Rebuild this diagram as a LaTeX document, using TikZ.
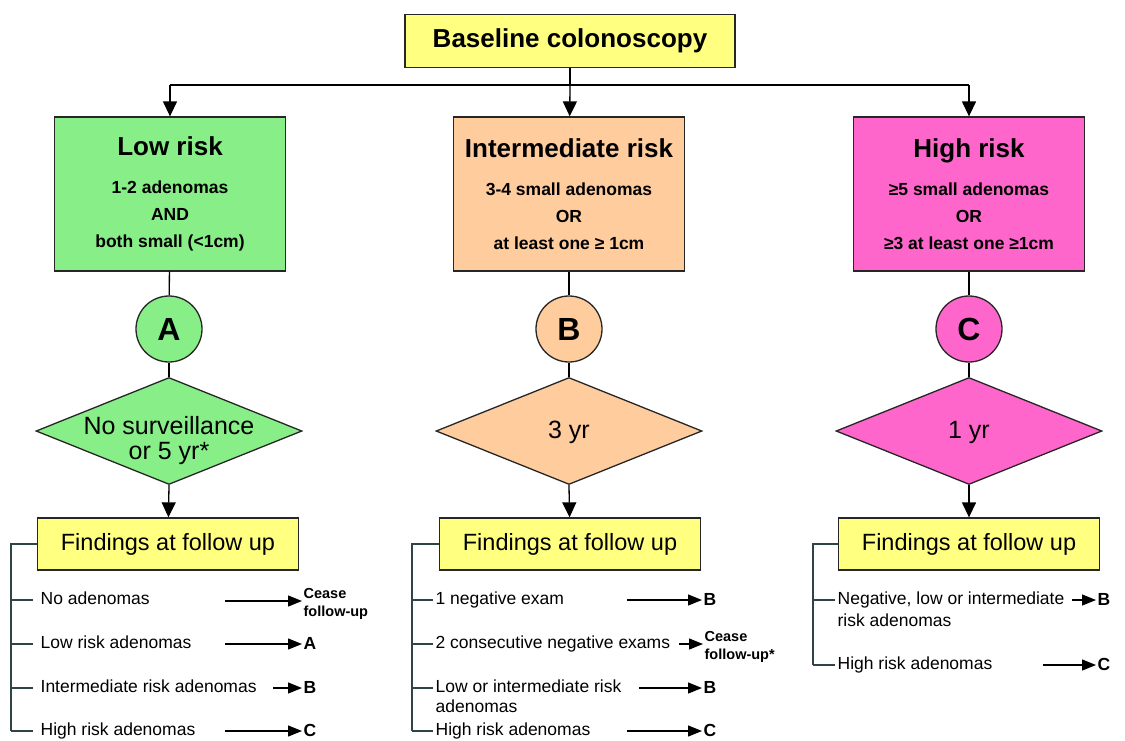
\documentclass[tikz,border=0pt]{standalone}
\usepackage{fontspec}
\setmainfont{Liberation Sans}
\usetikzlibrary{shapes.geometric,arrows.meta}
\definecolor{ybox}{HTML}{FFFF80}
\definecolor{gbox}{HTML}{88EE88}
\definecolor{obox}{HTML}{FFCC9E}
\definecolor{pbox}{HTML}{FF66CC}
\definecolor{brkline}{HTML}{2F4444}

\begin{document}
\begin{tikzpicture}[x=1pt,y=-1pt,line width=1.3pt,
  tip/.style={-{Triangle[length=15pt,width=14pt]}},
  smalltip/.style={-{Triangle[length=14pt,width=11pt]}},
  topbox/.style={draw=black!85,fill=ybox,minimum width=330pt,minimum height=53pt,font=\bfseries\fontsize{26}{28}\selectfont},
  riskbox/.style={draw=black!85,minimum width=231pt,minimum height=154pt,align=center,font=\bfseries\fontsize{17.5}{27}\selectfont},
  circ/.style={circle,draw=black!85,minimum size=66pt,inner sep=0pt,font=\bfseries\fontsize{32}{32}\selectfont},
  diam/.style={diamond,draw=black!85,minimum width=266pt,minimum height=107pt,inner sep=0pt},
  dtxt/.style={align=center,inner sep=0pt,font=\fontsize{25}{25}\selectfont},
  fbox/.style={draw=black!85,fill=ybox,minimum width=261pt,minimum height=52pt,font=\fontsize{23.5}{26}\selectfont},
  row/.style={anchor=west,inner sep=0pt,text height=13pt,text depth=4pt,font=\fontsize{17.5}{21}\selectfont},
  outl/.style={anchor=west,inner sep=1pt,text height=13pt,text depth=0pt,font=\bfseries\fontsize{17.5}{21}\selectfont},
  cease/.style={anchor=west,inner sep=1pt,align=left,font=\bfseries\fontsize{14.5}{18}\selectfont},
  brk/.style={draw=brkline,line width=1.2pt}]
\useasboundingbox (0,0) rectangle (1125,740);

\node[topbox] (base) at (570,41) {Baseline colonoscopy};
\coordinate (hub) at (570,85);

\node[riskbox,fill=gbox] (low) at (170,194) {{\fontsize{26}{27}\selectfont Low risk}\\[11pt]1-2 adenomas\\AND\\both small (<1cm)};
\node[riskbox,fill=obox] (mid) at (569,194) {{\fontsize{26}{27}\selectfont Intermediate risk}\\[11pt]3-4 small adenomas\\OR\\at least one ≥ 1cm};
\node[riskbox,fill=pbox] (high) at (969,194) {{\fontsize{26}{27}\selectfont High risk}\\[11pt]≥5 small adenomas\\OR\\≥3 at least one ≥1cm};

\node[circ,fill=gbox] (cA) at (169,329) {A};
\node[circ,fill=obox] (cB) at (569,329) {B};
\node[circ,fill=pbox] (cC) at (969,329) {C};

\node[diam,fill=gbox] (dA) at (169,431) {};
\node[diam,fill=obox] (dB) at (569,431) {};
\node[diam,fill=pbox] (dC) at (969,431) {};
\node[dtxt] (tA) at (169,441) {No surveillance\\or 5 yr*};
\node[dtxt] (tB) at (569,432) {3 yr};
\node[dtxt] (tC) at (969,432) {1 yr};

\node[fbox] (fA) at (168,544) {Findings at follow up};
\node[fbox] (fB) at (570,544) {Findings at follow up};
\node[fbox] (fC) at (969,544) {Findings at follow up};

\draw (base) -- (hub);
\draw (hub -| low) -- (hub -| high);
\draw[tip] (hub -| low) -- (low);
\draw[tip] (hub) -- (mid);
\draw[tip] (hub -| high) -- (high);
\draw (low) -- (cA);
\draw (mid) -- (cB);
\draw (high) -- (cC);
\draw (cA) -- (dA);
\draw (cB) -- (dB);
\draw (cC) -- (dC);
\draw[tip] (dA.south) -- (fA);
\draw[tip] (dB.south) -- (fB);
\draw[tip] (dC.south) -- (fC);

\node[row] (rA1) at (40,600) {No adenomas};
\node[row] (rA2) at (40,644) {Low risk adenomas};
\node[row] (rA3) at (40,688) {Intermediate risk adenomas};
\node[row] (rA4) at (40,731) {High risk adenomas};
\node[cease] (oA1) at (302,604) {Cease\\follow-up};
\node[outl] (oA2) at (302,643) {A};
\node[outl] (oA3) at (302,687) {B};
\node[outl] (oA4) at (302,730) {C};
\coordinate (sA1) at (225,601);
\coordinate (sA2) at (225,644);
\coordinate (sA3) at (273,688);
\coordinate (sA4) at (225,731);
\coordinate (bA) at (11,731);

\node[row] (rB1) at (435,600) {1 negative exam};
\node[row] (rB2) at (435,644) {2 consecutive negative exams};
\node[row] (rB3) at (435,688) {Low or intermediate risk};
\node[row] (rB3b) at (435,708) {adenomas};
\node[row] (rB4) at (435,731) {High risk adenomas};
\node[outl] (oB1) at (702,599) {B};
\node[cease] (oB2) at (703,647) {Cease\\follow-up*};
\node[outl] (oB3) at (702,687) {B};
\node[outl] (oB4) at (702,730) {C};
\coordinate (sB1) at (627,600);
\coordinate (sB2) at (679,644);
\coordinate (sB3) at (639,688);
\coordinate (sB4) at (627,731);
\coordinate (bB) at (412,731);

\node[row] (rC1) at (837,600) {Negative, low or intermediate};
\node[row] (rC1b) at (837,622) {risk adenomas};
\node[row] (rC2) at (837,665) {High risk adenomas};
\node[outl] (oC1) at (1096,599) {B};
\node[outl] (oC2) at (1096,664) {C};
\coordinate (sC1) at (1072,600);
\coordinate (sC2) at (1043,665);
\coordinate (bC) at (813,665);

\draw[brk] (fA.west) -| (bA);
\draw[brk] (fB.west) -| (bB);
\draw[brk] (fC.west) -| (bC);
\foreach \r in {rA1,rA2,rA3,rA4}
  \draw[brk] (\r.west -| bA) -- ([xshift=-7pt]\r.west);
\foreach \r in {rB1,rB2,rB3,rB4}
  \draw[brk] (\r.west -| bB) -- ([xshift=-2pt]\r.west);
\foreach \r in {rC1,rC2}
  \draw[brk] (\r.west -| bC) -- ([xshift=-2pt]\r.west);

\foreach \s/\o in {sA1/oA1,sA2/oA2,sA3/oA3,sA4/oA4,sB1/oB1,sB2/oB2,sB3/oB3,sB4/oB4,sC1/oC1,sC2/oC2}
  \draw[smalltip] (\s) -- (\s -| \o.west);
\end{tikzpicture}
\end{document}
